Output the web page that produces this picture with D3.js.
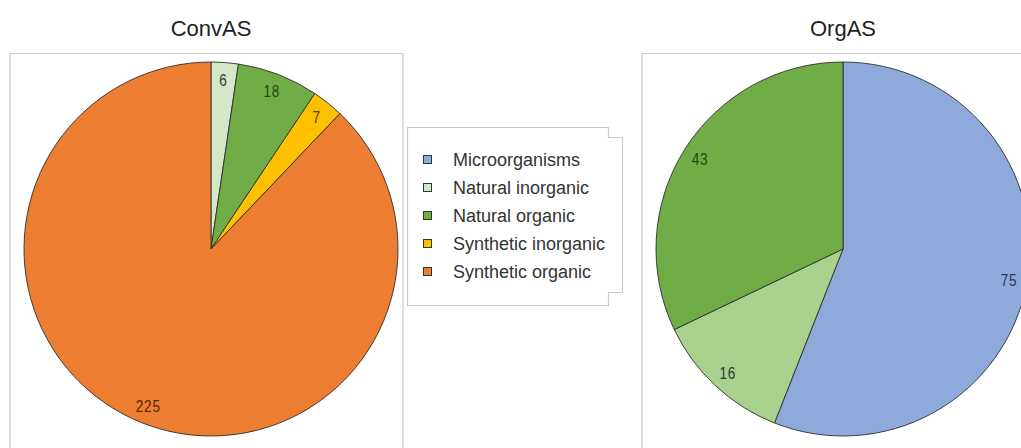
<!DOCTYPE html>
<html>
<head>
<meta charset="utf-8">
<script src="https://cdn.jsdelivr.net/npm/d3@7/dist/d3.min.js"></script>
<style>
  html, body { margin: 0; padding: 0; background: #fff; }
  svg { display: block; font-family: "Liberation Sans", Arial, sans-serif; }
</style>
</head>
<body>
<svg id="chart" width="1021" height="448"></svg>
<script>
// Source categories (legend order)
const categories = ["Microorganisms", "Natural inorganic", "Natural organic", "Synthetic inorganic", "Synthetic organic"];

// Counts per category for each process
const convValues = [0, 6, 18, 7, 225];
const orgValues  = [75, 16, 43, 0, 0];

// Titles of the two panels
const panelTitles = ["ConvAS", "OrgAS"];

// Slice fills and label tints
const legendColors = ["#8eaadb", "#d3e8c9", "#70ad47", "#ffc000", "#ed7d31"];
const convColors   = ["#8eaadb", "#d3e8c9", "#70ad47", "#ffc000", "#ed7d31"];
const orgColors    = ["#8eaadb", "#a9d18e", "#70ad47", "#ffc000", "#ed7d31"];
const labelColors  = ["#2b3a55", "#333333", "#1f4a10", "#5a3a00", "#5a2600"];

const svg = d3.select("#chart");

const R = 187;
const labelR = 169;

const panels = [
  { title: panelTitles[0], values: convValues, colors: convColors, cx: 211, cy: 249, frame: [10, 403] },
  { title: panelTitles[1], values: orgValues,  colors: orgColors,  cx: 843, cy: 249, frame: [642, 1040] }
];

const pie = d3.pie().sort(null).value(d => d.v);
const arc = d3.arc().innerRadius(0).outerRadius(R);
const labelArc = d3.arc().innerRadius(labelR).outerRadius(labelR);

panels.forEach(p => {
  // panel frame
  svg.append("path")
    .attr("d", `M${p.frame[0]},460 V53.5 H${p.frame[1]} V460`)
    .attr("fill", "none")
    .attr("stroke", "#c9c9c9")
    .attr("stroke-width", 1.2);

  svg.append("text")
    .attr("x", p.cx)
    .attr("y", 36)
    .attr("text-anchor", "middle")
    .attr("font-size", 22)
    .attr("fill", "#222")
    .text(p.title);

  const data = categories.map((c, i) => ({ c, i, v: p.values[i] })).filter(d => d.v > 0);
  const arcs = pie(data);

  const g = svg.append("g").attr("transform", `translate(${p.cx},${p.cy})`);

  g.selectAll("path.slice")
    .data(arcs)
    .join("path")
    .attr("class", "slice")
    .attr("d", arc)
    .attr("fill", d => p.colors[d.data.i])
    .attr("stroke", "#2f2f2f")
    .attr("stroke-width", 0.9)
    .attr("stroke-linejoin", "round");

  // value labels in a narrow, spaced face
  g.selectAll("text.val")
    .data(arcs)
    .join("text")
    .attr("class", "val")
    .attr("transform", d => `translate(${labelArc.centroid(d)}) scale(0.8,1)`)
    .attr("text-anchor", "middle")
    .attr("dy", "0.35em")
    .attr("font-size", 17)
    .attr("letter-spacing", 1)
    .attr("fill", d => labelColors[d.data.i])
    .text(d => d.data.v);
});

// Legend box with its offset edge
const lg = svg.append("g");
lg.append("path")
  .attr("d", "M407.5,127.5 H608.5 V137.5 H622.5 V292.5 H608.5 V305.5 H407.5 Z")
  .attr("fill", "#fff")
  .attr("stroke", "#c9c9c9")
  .attr("stroke-width", 1.2);

const rowY = d3.scalePoint().domain(categories).range([160, 272]);

const items = lg.selectAll("g.item")
  .data(categories)
  .join("g")
  .attr("class", "item")
  .attr("transform", d => `translate(0,${rowY(d)})`);

items.append("rect")
  .attr("x", 423.5)
  .attr("y", -4.5)
  .attr("width", 8)
  .attr("height", 8)
  .attr("fill", (d, i) => legendColors[i])
  .attr("stroke", "#333")
  .attr("stroke-width", 1);

items.append("text")
  .attr("x", 453)
  .attr("dy", "0.35em")
  .attr("font-size", 18)
  .attr("fill", "#333")
  .text(d => d);
</script>
</body>
</html>
